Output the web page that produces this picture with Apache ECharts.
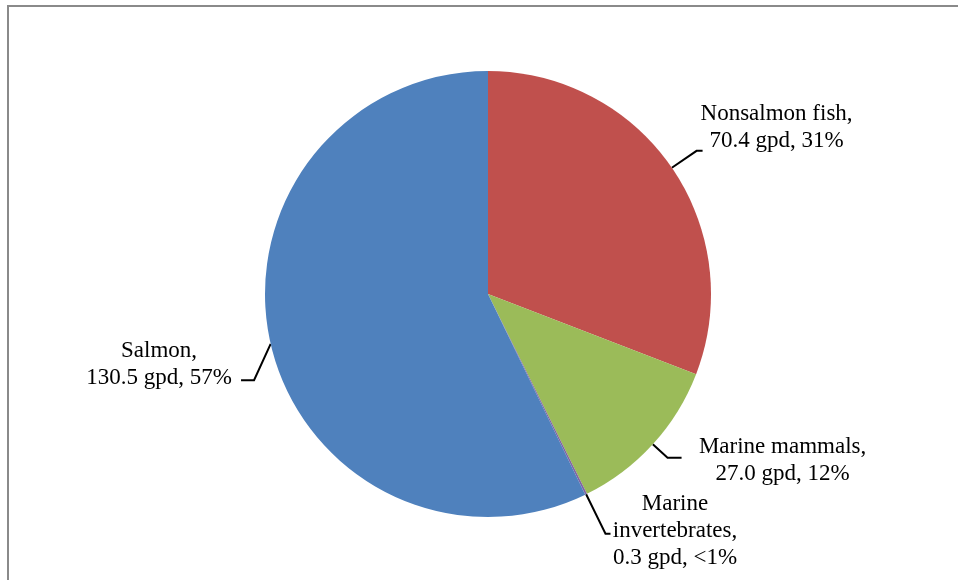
<!DOCTYPE html>
<html>
<head>
<meta charset="utf-8">
<script src="https://cdn.jsdelivr.net/npm/echarts@6/dist/echarts.min.js"></script>
<style>
  html, body { margin: 0; padding: 0; background: #fff; }
  #chart { width: 958px; height: 580px; }
</style>
</head>
<body>
<div id="chart"></div>
<script>
// data
const categories = ['Nonsalmon fish', 'Marine mammals', 'Marine invertebrates', 'Salmon'];
const labelNames = ['Nonsalmon fish,', 'Marine mammals,', 'Marine\ninvertebrates,', 'Salmon,'];
const gpdValues = [70.4, 27.0, 0.3, 130.5];
const pctLabels = ['31%', '12%', '<1%', '57%'];
const colors = ['#C0504D', '#9BBB59', '#8064A2', '#4F81BD'];

// leader line + text box tuning per slice (Excel style callouts)
const labelCfg = [
  { len: 30, len2: 6, dist: -6, width: 160, padding: [0, 0, 46, 0] },
  { len: 20, len2: 14, dist: 5, width: 192, padding: [6, 0, 0, 0] },
  { len: 44, len2: 5, dist: 0, width: 129, padding: [0, 0, 6, 0] },
  { len: 15, len2: 10, dist: 5, width: 164, padding: [34, 0, 0, 0] }
];

const FONT = '"Liberation Serif", "Times New Roman", serif';

const chart = echarts.init(document.getElementById('chart'));

const data = categories.map((name, i) => {
  const cfg = labelCfg[i];
  return {
    name: name,
    value: gpdValues[i],
    itemStyle: { color: colors[i] },
    label: {
      distanceToLabelLine: cfg.dist,
      padding: cfg.padding,
      rich: {
        t: {
          width: cfg.width,
          align: 'center',
          fontFamily: FONT,
          fontSize: 23,
          lineHeight: 27,
          color: '#000'
        }
      }
    },
    labelLine: { length: cfg.len, length2: cfg.len2 }
  };
});

chart.setOption({
  animation: false,
  backgroundColor: '#fff',
  graphic: [{
    type: 'rect',
    shape: { x: 8, y: 6, width: 1200, height: 1200 },
    style: { fill: 'none', stroke: '#8a8a8a', lineWidth: 2 },
    silent: true
  }],
  series: [{
    type: 'pie',
    center: [488, 294],
    radius: 223,
    startAngle: 90,
    clockwise: true,
    avoidLabelOverlap: false,
    emphasis: { disabled: true },
    itemStyle: { borderWidth: 0 },
    label: {
      show: true,
      position: 'outside',
      fontFamily: FONT,
      fontSize: 23,
      lineHeight: 27,
      color: '#000',
      formatter: function (p) {
        const i = p.dataIndex;
        const lines = labelNames[i].split('\n');
        lines.push(gpdValues[i].toFixed(1) + ' gpd, ' + pctLabels[i]);
        return lines.map(s => '{t|' + s + '}').join('\n');
      }
    },
    // salmon callout: leader drops to the second text line, like Excel does
    labelLayout: function (params) {
      if (params.dataIndex !== 3 || !params.labelLinePoints) return {};
      const start = params.labelLinePoints[0];
      const r = params.labelRect;
      const yEnd = r.y + r.height - 11;
      const xEnd = r.x + r.width;
      return {
        labelLinePoints: [start, [xEnd + 13, yEnd], [xEnd, yEnd]]
      };
    },
    labelLine: {
      show: true,
      smooth: false,
      lineStyle: { color: '#000', width: 2 }
    },
    data: data
  }]
});
</script>
</body>
</html>
